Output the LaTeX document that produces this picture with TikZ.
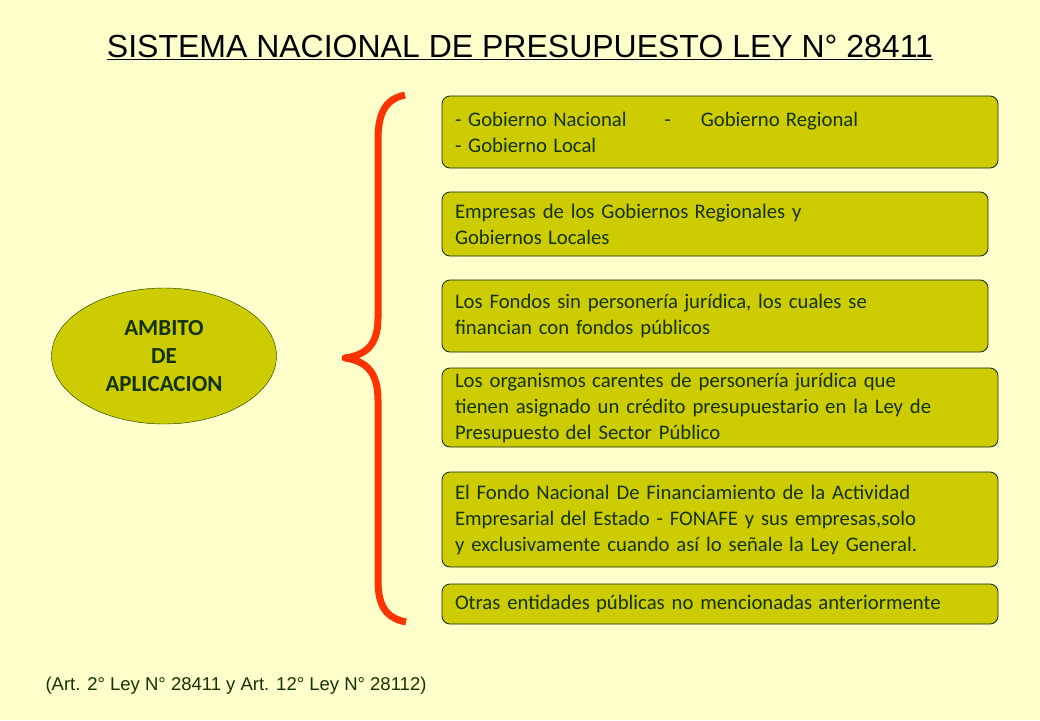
\documentclass[tikz,border=0pt]{standalone}
\usepackage{fontspec}
\setmainfont{Carlito}
\newfontfamily\arialfont{Liberation Sans}
\usepackage{xcolor}
\usetikzlibrary{positioning,shapes.geometric}

\definecolor{fondo}{RGB}{255,255,204}
\definecolor{oliva}{RGB}{204,204,0}
\definecolor{texto}{RGB}{20,50,0}
\definecolor{llave}{RGB}{255,51,0}

\newcommand{\esp}{\hspace{0.3em}}

\tikzset{
  caja/.style={draw=texto!80!black,fill=oliva,rounded corners=8pt,line width=0.8pt,
    anchor=north west,align=left,text=texto,inner xsep=12pt,inner ysep=0pt,outer sep=0pt,
    font=\fontsize{20.7}{26}\selectfont},
}

\begin{document}
\begin{tikzpicture}[x=1pt,y=-1pt]
\useasboundingbox[fill=fondo] (0,0) rectangle (1040,720);

\node[text=black,font=\arialfont\fontsize{32}{36}\selectfont] (titulo) at (520,47)
  {\underline{SISTEMA NACIONAL DE PRESUPUESTO LEY N° 28411}};

\node[ellipse,draw=texto,fill=oliva,minimum width=225pt,minimum height=136pt,inner sep=0pt,
  text=texto,align=center,font=\bfseries\fontsize{23}{28}\selectfont] (ambito) at (164,356)
  {AMBITO\\DE\\APLICACION};

\node[caja,minimum width=556pt,minimum height=72pt,text width=530pt] (b1) at (442,96)
  {- Gobierno\esp Nacional\hspace{38pt}-\hspace{30pt}Gobierno\esp Regional\\- Gobierno\esp Local};
\node[caja,minimum width=546pt,minimum height=64pt,text width=520pt] (b2)
  [below right=24pt and 0pt of b1.south west]
  {Empresas de los Gobiernos\esp Regionales y\\Gobiernos\esp Locales};
\node[caja,minimum width=546pt,minimum height=72pt,text width=520pt] (b3)
  [below right=24pt and 0pt of b2.south west]
  {Los Fondos sin personería\esp jurídica, los cuales se\\financian con fondos públicos};
\node[caja,minimum width=556pt,minimum height=79pt,text width=530pt] (b4)
  [below right=16pt and 0pt of b3.south west]
  {Los organismos\esp carentes de personería\esp jurídica que\\tienen asignado un crédito presupuestario\esp en la Ley de\\Presupuesto\esp del Sector Público};
\node[caja,minimum width=556pt,minimum height=95pt,text width=530pt] (b5)
  [below right=25pt and 0pt of b4.south west]
  {El Fondo Nacional De Financiamiento de la Actividad\\Empresarial\esp del Estado - FONAFE y sus empresas,solo\\y exclusivamente cuando así lo señale\esp la Ley General.};
\node[caja,minimum width=556pt,minimum height=40pt,text width=530pt] (b6)
  [below right=17pt and 0pt of b5.south west]
  {Otras entidades\esp públicas no mencionadas\esp anteriormente};

% llave
\coordinate (arriba) at (405,95);
\coordinate (pico) at (345,358);
\coordinate (abajo) at (406,622);
\draw[llave,line width=7pt,line join=round] (arriba) .. controls (386,99) and (378,112) .. (378,140)
  -- (378,318) .. controls (378,345) and (366,355) .. (pico)
  .. controls (366,361) and (378,372) .. (378,400)
  -- (378,580) .. controls (378,606) and (386,618) .. (abajo);

\node[text=texto,anchor=west,font=\arialfont\fontsize{18.5}{22}\selectfont] (nota) at (42,686)
  {(Art. 2° Ley N° 28411 y Art. 12° Ley N° 28112)};
\end{tikzpicture}
\end{document}
